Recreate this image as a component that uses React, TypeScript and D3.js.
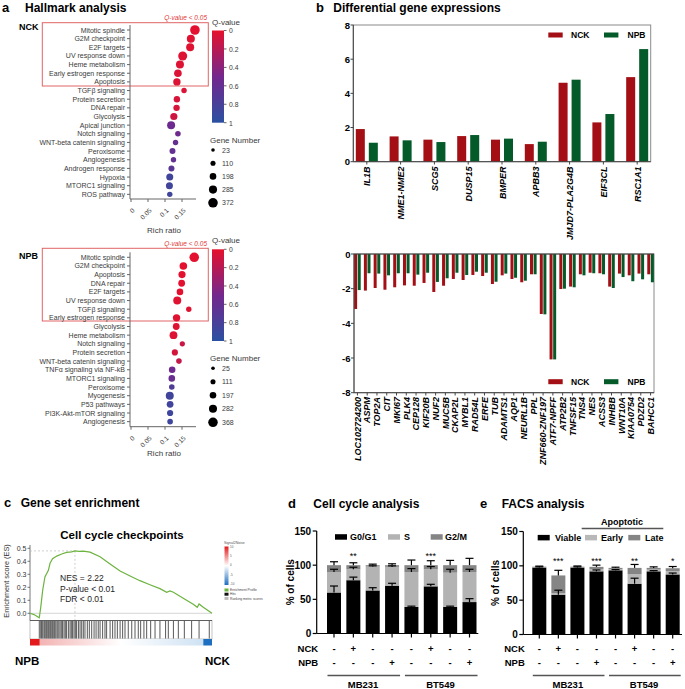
import React, { useEffect, useRef } from 'react';
import * as d3 from 'd3';

const FONT = 'Liberation Sans, Arial, Helvetica, sans-serif';

// ---- a: Hallmark analysis ----
const nckTerms = ['Mitotic spindle', 'G2M checkpoint', 'E2F targets', 'UV response down', 'Heme metabolism', 'Early estrogen response', 'Apoptosis', 'TGFβ signaling', 'Protein secretion', 'DNA repair', 'Glycolysis', 'Apical junction', 'Notch signaling', 'WNT-beta catenin signaling', 'Peroxisome', 'Angiogenesis', 'Androgen response', 'Hypoxia', 'MTORC1 signaling', 'ROS pathway'];
const nckRatio = [0.188, 0.176, 0.174, 0.152, 0.144, 0.138, 0.135, 0.156, 0.135, 0.134, 0.126, 0.118, 0.138, 0.131, 0.122, 0.125, 0.119, 0.114, 0.113, 0.114];
const nckQ = [0.01, 0.02, 0.02, 0.03, 0.03, 0.04, 0.04, 0.05, 0.06, 0.06, 0.1, 0.55, 0.55, 0.6, 0.62, 0.62, 0.68, 0.85, 0.85, 0.85];
const nckGenes = [372, 279, 279, 337, 279, 256, 244, 128, 186, 186, 232, 279, 139, 128, 163, 128, 163, 221, 221, 128];
const nckSizeTicks = [23, 110, 198, 285, 372];

const npbTerms = ['Mitotic spindle', 'G2M checkpoint', 'Apoptosis', 'DNA repair', 'E2F targets', 'UV response down', 'TGFβ signaling', 'Early estrogen response', 'Glycolysis', 'Heme metabolism', 'Notch signaling', 'Protein secretion', 'WNT-beta catenin signaling', 'TNFα signaling via NF-kB', 'MTORC1 signaling', 'Peroxisome', 'Myogenesis', 'P53 pathways', 'PI3K-Akt-mTOR signaling', 'Angiogenesis'];
const npbRatio = [0.186, 0.154, 0.150, 0.149, 0.144, 0.136, 0.170, 0.134, 0.133, 0.125, 0.151, 0.129, 0.141, 0.121, 0.120, 0.120, 0.114, 0.115, 0.115, 0.115];
const npbQ = [0.01, 0.01, 0.01, 0.01, 0.01, 0.02, 0.02, 0.02, 0.02, 0.03, 0.12, 0.08, 0.15, 0.55, 0.58, 0.75, 0.85, 0.85, 0.87, 0.87];
const npbGenes = [368, 256, 232, 209, 198, 279, 128, 244, 209, 267, 116, 174, 139, 198, 198, 139, 279, 209, 174, 139];
const npbSizeTicks = [25, 111, 197, 282, 368];

const qTicks = [0, 0.2, 0.4, 0.6, 0.8, 1];
const ratioTicks = [0, 0.05, 0.1, 0.15];

// ---- b: Differential gene expressions ----
const upGenes = ['IL1B', 'NME1-NME2', 'SCG5', 'DUSP15', 'BMPER', 'APBB3', 'JMJD7-PLA2G4B', 'EIF3CL', 'RSC1A1'];
const upNck = [1.91, 1.48, 1.29, 1.5, 1.29, 1.03, 4.62, 2.3, 4.95];
const upNpb = [1.11, 1.25, 1.15, 1.56, 1.35, 1.17, 4.8, 2.79, 6.59];
const upTicks = [0, 2, 4, 6, 8];

const downGenes = ['LOC102724200', 'ASPM', 'TOP2A', 'CIT', 'MKI67', 'PLK4', 'CEP128', 'KIF20B', 'NUF2', 'MUC5B', 'CKAP2L', 'MYBL1', 'RAD54L', 'ERFE', 'TUB', 'ADAMTS1', 'AQP1', 'NEURL1B', 'PPL', 'ZNF660-ZNF197', 'ATF7-NPFF', 'ATP2B2', 'TNFSF15', 'TNS4', 'NES', 'ACSS3', 'INHBB', 'WNT10A', 'KIAA0754', 'PDZD2', 'BAHCC1'];
const downNck = [-3.17, -2.11, -1.96, -2.06, -1.92, -1.81, -1.83, -1.67, -2.19, -1.83, -1.44, -1.5, -1.21, -1.27, -1.73, -1.23, -1.44, -1.63, -1.17, -3.46, -6.08, -2.02, -1.88, -1.17, -1.08, -1.11, -1.88, -1.13, -1.23, -1.13, -1.17];
const downNpb = [-2.08, -1.11, -1.13, -1.23, -1.11, -1.11, -1.19, -1.08, -1.61, -1.4, -1.08, -1.21, -1.02, -1.08, -1.6, -1.13, -1.37, -1.54, -1.17, -3.48, -6.08, -2.0, -1.92, -1.23, -1.11, -1.17, -1.96, -1.33, -1.57, -1.46, -1.63];
const downTicks = [0, -2, -4, -6, -8];

// ---- c: GSEA ----
const esRank = [0, 2.2, 5.1, 5.9, 7.0, 8.2, 10.1, 11.0, 12.4, 14.7, 17.4, 20.1, 22.9, 24.7, 27.0, 29.3, 33.0, 38.5, 44.0, 49.5, 55.0, 60.4, 65.9, 71.4, 75.1, 76.9, 78.8, 84.2, 89.7, 91.9, 92.9, 95.2, 100];
const esScore = [0, -0.01, -0.034, 0.046, 0.18, 0.28, 0.33, 0.385, 0.42, 0.44, 0.456, 0.468, 0.473, 0.48, 0.476, 0.478, 0.47, 0.435, 0.379, 0.325, 0.287, 0.251, 0.22, 0.19, 0.162, 0.172, 0.162, 0.115, 0.069, 0.046, 0.072, 0.046, 0];
const hitRanks = [5.1, 5.9, 6.4, 7.0, 7.7, 8.2, 8.8, 9.3, 9.9, 10.4, 11.0, 11.5, 12.1, 12.6, 13.2, 13.7, 14.3, 15.0, 15.8, 16.5, 17.2, 17.9, 18.7, 19.4, 20.1, 21.1, 22.0, 22.7, 23.4, 24.2, 24.9, 25.6, 26.6, 27.5, 28.4, 29.3, 30.2, 31.5, 32.6, 33.9, 35.2, 36.3, 37.5, 38.5, 39.9, 41.2, 42.1, 44.0, 45.4, 46.7, 48.0, 49.5, 50.9, 52.2, 54.0, 55.9, 57.7, 59.5, 60.8, 62.6, 64.1, 66.3, 68.7, 71.4, 74.5, 76.0, 78.8, 81.5, 84.8, 88.8, 92.9, 98.5];
const esTicks = [0, 0.1, 0.2, 0.3, 0.4, 0.5];
const gseaStats = ['NES = 2.22', 'P-value < 0.01', 'FDR < 0.01'];

// ---- d / e: shared treatment layout ----
const nckSigns = ['-', '+', '-', '-', '-', '+', '-', '-'];
const npbSigns = ['-', '-', '-', '+', '-', '-', '-', '+'];
const cellLines = ['MB231', 'BT549'];
const pctTicks = [0, 50, 100, 150];

// d: cell cycle
const ccG1 = [60, 78, 63, 70, 39, 69, 39, 46];
const ccS = [30, 16, 35, 27.5, 51, 25, 50, 44];
const ccG2M = [10, 6, 2, 2.5, 10, 6, 11, 10];
const ccG1Err = [9.5, 4.5, 4, 3.5, 1, 3, 1, 5];
const ccSErr = [4, 3, 1, 1.5, 5, 4, 5, 4];
const ccG2MErr = [5, 3.5, 1.5, 2, 7.5, 6.5, 7, 10];
const ccStars = ['', '**', '', '', '', '***', '', ''];

// e: FACS
const facsViable = [97.5, 58, 97.5, 92, 93.5, 74, 92, 87.5];
const facsEarly = [0.5, 2, 0.5, 3, 1.5, 14, 2.5, 5];
const facsLate = [0.8, 26, 0.8, 3.5, 2, 9, 2.5, 4];
const facsViableErr = [1, 6.5, 1, 2, 1, 8, 1, 2];
const facsEarlyErr = [0, 0, 0, 0, 0, 0, 0, 0];
const facsLateErr = [0.8, 7.5, 1, 2.5, 1, 5, 1.5, 2.5];
const facsStars = ['', '***', '', '***', '', '**', '', '*'];

const RED = '#a30f14';
const GREEN = '#045a28';

const App = () => {
  const ref = useRef(null);

  useEffect(() => {
    document.body.style.margin = '0';
    const svg = d3.select(ref.current);
    svg.selectAll('*').remove();
    svg.attr('width', 685).attr('height', 689).style('font-family', FONT);

    const defs = svg.append('defs');
    const qColor = d3.scaleLinear<string>().domain([0, 0.5, 1]).range(['#e5112d', '#74278d', '#2b50a1']);
    const qGrad = defs.append('linearGradient').attr('id', 'qgrad')
      .attr('x1', 0).attr('x2', 0).attr('y1', 0).attr('y2', 1);
    d3.range(0, 1.01, 0.1).forEach(t => qGrad.append('stop').attr('offset', t).attr('stop-color', qColor(t)));

    const panelTitle = (x, letter, x2, text, y) => {
      svg.append('text').attr('x', x).attr('y', y).attr('font-size', 13).attr('font-weight', 'bold').text(letter);
      svg.append('text').attr('x', x2).attr('y', y).attr('font-size', 12).attr('font-weight', 'bold').text(text);
    };
    panelTitle(2, 'a', 25, 'Hallmark analysis', 11.5);
    panelTitle(316, 'b', 333.3, 'Differential gene expressions', 11.5);
    panelTitle(4, 'c', 20.7, 'Gene set enrichment', 507);
    panelTitle(288, 'd', 313.3, 'Cell cycle analysis', 507.5);
    panelTitle(480, 'e', 501.7, 'FACS analysis', 507.5);

    // ---------- a ----------
    const drawHallmark = (L) => {
      const g = svg.append('g');
      const y = d3.scalePoint().domain(L.terms).range([L.rowY0, L.rowY0 + (L.terms.length - 1) * 8.65]);
      const x = d3.scaleLinear().domain([0, 0.19]).range([131, 195.6]);
      const r = d3.scaleLinear().domain([23, 372]).range([1.8, 4.8]);

      g.append('text').attr('x', 19).attr('y', L.nameY).attr('font-size', 9).attr('font-weight', 'bold').text(L.name);
      g.append('text').attr('x', 207).attr('y', L.qLabelY).attr('text-anchor', 'end')
        .attr('font-size', 6.5).attr('font-style', 'italic').attr('fill', '#e03a3a').text('Q-value < 0.05');
      g.append('rect').attr('x', 42.3).attr('y', L.boxTop).attr('width', 166).attr('height', L.boxBottom - L.boxTop)
        .attr('fill', 'none').attr('stroke', '#e06464').attr('stroke-width', 1);

      g.append('line').attr('x1', 130).attr('x2', 130).attr('y1', L.rowY0 - 5).attr('y2', L.axisY).attr('stroke', '#666');
      L.terms.forEach(t => {
        g.append('line').attr('x1', 127).attr('x2', 130).attr('y1', y(t)).attr('y2', y(t)).attr('stroke', '#666');
        g.append('text').attr('x', 125).attr('y', y(t) + 2.5).attr('text-anchor', 'end')
          .attr('font-size', 7).attr('fill', '#3a3a3a').text(t);
      });
      g.append('line').attr('x1', 130).attr('x2', 196).attr('y1', L.axisY).attr('y2', L.axisY).attr('stroke', '#666');
      ratioTicks.forEach(t => {
        g.append('line').attr('x1', x(t)).attr('x2', x(t)).attr('y1', L.axisY).attr('y2', L.axisY + 3).attr('stroke', '#666');
        g.append('text').attr('transform', `translate(${x(t) + 4},${L.axisY + 12}) rotate(-45)`)
          .attr('text-anchor', 'end').attr('font-size', 6.5).attr('fill', '#3a3a3a').text(String(t));
      });
      g.append('text').attr('x', 164).attr('y', L.richY).attr('text-anchor', 'middle').attr('font-size', 8)
        .attr('fill', '#3a3a3a').text('Rich ratio');

      L.terms.forEach((t, i) => {
        g.append('circle').attr('cx', x(L.ratio[i])).attr('cy', y(t)).attr('r', r(L.genes[i])).attr('fill', qColor(L.q[i]));
      });

      // Q-value colour bar
      const qy = d3.scaleLinear().domain([0, 1]).range([L.cbTop, L.cbBot]);
      g.append('text').attr('x', 212).attr('y', L.qTitleY).attr('font-size', 8).attr('fill', '#3a3a3a').text('Q-value');
      g.append('rect').attr('x', 212).attr('y', L.cbTop).attr('width', 12).attr('height', L.cbBot - L.cbTop).attr('fill', 'url(#qgrad)');
      qTicks.forEach(t => {
        g.append('line').attr('x1', 224).attr('x2', 226.5).attr('y1', qy(t)).attr('y2', qy(t)).attr('stroke', '#666');
        g.append('text').attr('x', 229).attr('y', qy(t) + 2.8).attr('font-size', 6.8).attr('fill', '#3a3a3a').text(String(t));
      });

      // gene number legend
      g.append('text').attr('x', 210).attr('y', L.glTitleY).attr('font-size', 8).attr('fill', '#3a3a3a').text('Gene Number');
      L.sizeTicks.forEach((v, i) => {
        const cy = L.glY0 + i * L.glStep;
        g.append('circle').attr('cx', 213).attr('cy', cy).attr('r', r(v)).attr('fill', '#000');
        g.append('text').attr('x', 222).attr('y', cy + 2.5).attr('font-size', 7).attr('fill', '#3a3a3a').text(String(v));
      });
    };

    drawHallmark({
      name: 'NCK', terms: nckTerms, ratio: nckRatio, q: nckQ, genes: nckGenes, sizeTicks: nckSizeTicks,
      rowY0: 30, nameY: 29.5, qLabelY: 20, boxTop: 22.7, boxBottom: 86, axisY: 199, richY: 233,
      cbTop: 30.5, cbBot: 122.7, qTitleY: 25, glTitleY: 142.5, glY0: 150, glStep: 13.2,
    });
    drawHallmark({
      name: 'NPB', terms: npbTerms, ratio: npbRatio, q: npbQ, genes: npbGenes, sizeTicks: npbSizeTicks,
      rowY0: 257.3, nameY: 258.8, qLabelY: 246, boxTop: 248.3, boxBottom: 321, axisY: 426.7, richY: 456.3,
      cbTop: 249.3, cbBot: 341, qTitleY: 243, glTitleY: 360.7, glY0: 368.3, glStep: 13.5,
    });

    // ---------- b ----------
    const legendB = (y) => {
      svg.append('rect').attr('x', 548.3).attr('y', y - 2.5).attr('width', 14.4).attr('height', 5).attr('fill', RED);
      svg.append('text').attr('x', 571).attr('y', y + 3.2).attr('font-size', 8.5).attr('font-weight', 'bold').text('NCK');
      svg.append('rect').attr('x', 604).attr('y', y - 2.5).attr('width', 14.4).attr('height', 5).attr('fill', GREEN);
      svg.append('text').attr('x', 627.5).attr('y', y + 3.2).attr('font-size', 8.5).attr('font-weight', 'bold').text('NPB');
    };

    const upX = d3.scalePoint().domain(upGenes).range([353.3, 650.7]).padding(0.4);
    const upY = d3.scaleLinear().domain([0, 8]).range([161.7, 25]);
    svg.append('rect').attr('x', 353.3).attr('y', 25).attr('width', 297.4).attr('height', 136.7)
      .attr('fill', 'none').attr('stroke', '#8a8a8a');
    upGenes.forEach((gname, i) => {
      const c = upX(gname);
      svg.append('rect').attr('x', c - 11).attr('width', 9).attr('y', upY(upNck[i])).attr('height', upY(0) - upY(upNck[i])).attr('fill', RED);
      svg.append('rect').attr('x', c + 2).attr('width', 9).attr('y', upY(upNpb[i])).attr('height', upY(0) - upY(upNpb[i])).attr('fill', GREEN);
      svg.append('line').attr('x1', c).attr('x2', c).attr('y1', 161.7).attr('y2', 164.5).attr('stroke', '#444');
      svg.append('text').attr('transform', `translate(${c + 3.5},166.5) rotate(-90)`).attr('text-anchor', 'end')
        .attr('font-size', 9).attr('font-weight', 'bold').attr('font-style', 'italic').text(gname);
    });
    svg.append('line').attr('x1', 353.3).attr('x2', 353.3).attr('y1', 25).attr('y2', 161.7).attr('stroke', '#444');
    svg.append('line').attr('x1', 353.3).attr('x2', 650.7).attr('y1', 161.7).attr('y2', 161.7).attr('stroke', '#444');
    upTicks.forEach(t => {
      svg.append('line').attr('x1', 350.5).attr('x2', 353.3).attr('y1', upY(t)).attr('y2', upY(t)).attr('stroke', '#444');
      svg.append('text').attr('x', 350).attr('y', upY(t) + 3.5).attr('text-anchor', 'end')
        .attr('font-size', 9.5).attr('font-weight', 'bold').text(String(t));
    });
    legendB(35);

    const dnX = d3.scalePoint().domain(downGenes).range([354, 654]).padding(0.35);
    const dnY = d3.scaleLinear().domain([-8, 0]).range([392.7, 254]);
    svg.append('rect').attr('x', 354).attr('y', 254).attr('width', 300).attr('height', 138.7)
      .attr('fill', 'none').attr('stroke', '#8a8a8a');
    downGenes.forEach((gname, i) => {
      const c = dnX(gname);
      svg.append('rect').attr('x', c - 3.3).attr('width', 3).attr('y', dnY(0)).attr('height', dnY(downNck[i]) - dnY(0)).attr('fill', RED);
      svg.append('rect').attr('x', c + 0.3).attr('width', 3).attr('y', dnY(0)).attr('height', dnY(downNpb[i]) - dnY(0)).attr('fill', GREEN);
      svg.append('line').attr('x1', c).attr('x2', c).attr('y1', 392.7).attr('y2', 395.5).attr('stroke', '#444');
      svg.append('text').attr('transform', `translate(${c + 3.3},397) rotate(-90)`).attr('text-anchor', 'end')
        .attr('font-size', 9).attr('font-weight', 'bold').attr('font-style', 'italic').text(gname);
    });
    svg.append('line').attr('x1', 354).attr('x2', 354).attr('y1', 254).attr('y2', 392.7).attr('stroke', '#444');
    svg.append('line').attr('x1', 354).attr('x2', 654).attr('y1', 392.7).attr('y2', 392.7).attr('stroke', '#444');
    svg.append('line').attr('x1', 354).attr('x2', 654).attr('y1', 254).attr('y2', 254).attr('stroke', '#444');
    downTicks.forEach(t => {
      svg.append('line').attr('x1', 351).attr('x2', 354).attr('y1', dnY(t)).attr('y2', dnY(t)).attr('stroke', '#444');
      svg.append('text').attr('x', 350.5).attr('y', dnY(t) + 3.5).attr('text-anchor', 'end')
        .attr('font-size', 9.5).attr('font-weight', 'bold').text(String(t));
    });
    legendB(381.7);

    // ---------- c ----------
    const esX = d3.scaleLinear().domain([0, 100]).range([30, 212]);
    const esY = d3.scaleLinear().domain([0, 0.5]).range([613.3, 548.3]);
    svg.append('text').attr('x', 122).attr('y', 538.5).attr('text-anchor', 'middle')
      .attr('font-size', 11.5).attr('font-weight', 'bold').text('Cell cycle checkpoints');
    svg.append('line').attr('x1', 30).attr('x2', 30).attr('y1', 545).attr('y2', 620.5).attr('stroke', '#555').attr('stroke-width', 0.8);
    svg.append('line').attr('x1', 30).attr('x2', 212).attr('y1', esY(0)).attr('y2', esY(0)).attr('stroke', '#ccc').attr('stroke-width', 0.8);
    esTicks.forEach(t => {
      svg.append('line').attr('x1', 27.5).attr('x2', 30).attr('y1', esY(t)).attr('y2', esY(t)).attr('stroke', '#555').attr('stroke-width', 0.8);
      svg.append('text').attr('x', 26.5).attr('y', esY(t) + 2.5).attr('text-anchor', 'end')
        .attr('font-size', 7).attr('fill', '#333').text(t.toFixed(1));
    });
    svg.append('text').attr('transform', 'translate(8.5,581) rotate(-90)').attr('text-anchor', 'middle')
      .attr('font-size', 7.3).attr('fill', '#333').text('Enrichment score (ES)');

    const peakIdx = d3.maxIndex(esScore);
    const px = esX(esRank[peakIdx]);
    const py = esY(esScore[peakIdx]);
    svg.append('line').attr('x1', 30).attr('x2', px).attr('y1', py).attr('y2', py)
      .attr('stroke', '#bbb').attr('stroke-dasharray', '2,2').attr('stroke-width', 0.7);
    svg.append('line').attr('x1', px).attr('x2', px).attr('y1', py).attr('y2', 639)
      .attr('stroke', '#bbb').attr('stroke-dasharray', '2,2').attr('stroke-width', 0.7);

    const esLine = d3.line<number>().x((d, i) => esX(esRank[i])).y(d => esY(d));
    svg.append('path').attr('d', esLine(esScore)).attr('fill', 'none').attr('stroke', '#6cb33f').attr('stroke-width', 1.2);

    gseaStats.forEach((s, i) => {
      svg.append('text').attr('x', 60).attr('y', 581.3 + i * 10.4).attr('font-size', 8.5).attr('fill', '#222').text(s);
    });

    // hits strip
    svg.append('rect').attr('x', 30).attr('y', 620.5).attr('width', 182).attr('height', 18.5)
      .attr('fill', '#fff').attr('stroke', '#999').attr('stroke-width', 0.6);
    svg.append('line').attr('x1', 30).attr('x2', 212).attr('y1', 620.5).attr('y2', 620.5).attr('stroke', '#444').attr('stroke-width', 0.8);
    hitRanks.forEach(h => {
      svg.append('line').attr('x1', esX(h)).attr('x2', esX(h)).attr('y1', 621).attr('y2', 638.5)
        .attr('stroke', '#111').attr('stroke-width', 0.7);
    });
    const rankGrad = defs.append('linearGradient').attr('id', 'rankgrad');
    [[0, '#e31a1c'], [0.05, '#e31a1c'], [0.055, '#f3b3b3'], [0.5, '#ffffff'], [0.95, '#cfe2f3'], [0.955, '#1f6fc0'], [1, '#1f6fc0']]
      .forEach(([o, c]) => rankGrad.append('stop').attr('offset', o).attr('stop-color', c));
    svg.append('rect').attr('x', 30).attr('y', 639).attr('width', 182).attr('height', 6.5).attr('fill', 'url(#rankgrad)');

    // tiny GSEA legend
    const snGrad = defs.append('linearGradient').attr('id', 'sngrad').attr('x1', 0).attr('x2', 0).attr('y1', 0).attr('y2', 1);
    [[0, '#e31a1c'], [0.5, '#ffffff'], [1, '#1f6fc0']].forEach(([o, c]) => snGrad.append('stop').attr('offset', o).attr('stop-color', c));
    svg.append('text').attr('x', 224).attr('y', 544).attr('font-size', 3.5).attr('fill', '#555').text('Signal2Noise');
    svg.append('rect').attr('x', 224.5).attr('y', 546.5).attr('width', 4).attr('height', 38.5).attr('fill', 'url(#sngrad)');
    [10, 5, 0, -5, -10].forEach((t, i) => {
      svg.append('text').attr('x', 230).attr('y', 547.5 + i * 9.4).attr('font-size', 3).attr('fill', '#555').text(String(t));
    });
    [['#6cb33f', 'Enrichment Profile'], ['#111', 'Hits'], ['#bbb', 'Ranking metric scores']].forEach(([c, t], i) => {
      svg.append('rect').attr('x', 224.5).attr('y', 588.5 + i * 4.2).attr('width', 4).attr('height', 3).attr('fill', c);
      svg.append('text').attr('x', 230).attr('y', 591.2 + i * 4.2).attr('font-size', 3.3).attr('fill', '#444').text(t);
    });

    svg.append('text').attr('x', 15).attr('y', 664.5).attr('font-size', 11.5).attr('font-weight', 'bold').text('NPB');
    svg.append('text').attr('x', 205).attr('y', 664.5).attr('font-size', 11.5).attr('font-weight', 'bold').text('NCK');

    // ---------- d / e ----------
    const drawStack = (P) => {
      const idx = d3.range(nckSigns.length);
      const x = d3.scalePoint().domain(idx).range([P.c0, P.c1]);
      const y = d3.scaleLinear().domain([0, 150]).range([P.y0, P.y150]);
      const bw = 14;
      const table = idx.map(i => ({ a: P.layers[0][i], b: P.layers[1][i], c: P.layers[2][i] }));
      const series = d3.stack().keys(['a', 'b', 'c'])(table);

      series.forEach((s, li) => {
        s.forEach((d, i) => {
          svg.append('rect').attr('x', x(i) - bw / 2).attr('width', bw)
            .attr('y', y(d[1])).attr('height', Math.max(0, y(d[0]) - y(d[1]))).attr('fill', P.colors[li]);
        });
      });
      series.forEach((s, li) => {
        s.forEach((d, i) => {
          const e = P.errs[li][i];
          if (!e) return;
          const top = y(d[1] + e);
          svg.append('line').attr('x1', x(i)).attr('x2', x(i)).attr('y1', y(d[1])).attr('y2', top).attr('stroke', '#000').attr('stroke-width', 1.2);
          svg.append('line').attr('x1', x(i) - 4).attr('x2', x(i) + 4).attr('y1', top).attr('y2', top).attr('stroke', '#000').attr('stroke-width', 1.2);
        });
      });
      P.stars.forEach((s, i) => {
        if (s) svg.append('text').attr('x', x(i)).attr('y', P.starY).attr('text-anchor', 'middle').attr('font-size', 9).text(s);
      });

      // axes
      svg.append('line').attr('x1', P.axisX).attr('x2', P.axisX).attr('y1', y(150)).attr('y2', y(0)).attr('stroke', '#000').attr('stroke-width', 1.2);
      svg.append('line').attr('x1', P.axisX).attr('x2', P.axisEnd).attr('y1', y(0)).attr('y2', y(0)).attr('stroke', '#000').attr('stroke-width', 1.2);
      pctTicks.forEach(t => {
        svg.append('line').attr('x1', P.axisX - 4).attr('x2', P.axisX).attr('y1', y(t)).attr('y2', y(t)).attr('stroke', '#000').attr('stroke-width', 1.2);
        svg.append('text').attr('x', P.axisX - 5.5).attr('y', y(t) + 3.5).attr('text-anchor', 'end')
          .attr('font-size', 10).attr('font-weight', 'bold').text(String(t));
      });
      idx.forEach(i => {
        svg.append('line').attr('x1', x(i)).attr('x2', x(i)).attr('y1', y(0)).attr('y2', y(0) + 4).attr('stroke', '#000').attr('stroke-width', 1.2);
        svg.append('text').attr('x', x(i)).attr('y', 652).attr('text-anchor', 'middle').attr('font-size', 9.5).attr('font-weight', 'bold').text(nckSigns[i]);
        svg.append('text').attr('x', x(i)).attr('y', 666).attr('text-anchor', 'middle').attr('font-size', 9.5).attr('font-weight', 'bold').text(npbSigns[i]);
      });
      svg.append('text').attr('transform', `translate(${P.yTitleX},${(y(0) + y(150)) / 2}) rotate(-90)`)
        .attr('text-anchor', 'middle').attr('font-size', 10).attr('font-weight', 'bold').text('% of cells');
      svg.append('text').attr('x', P.axisX + 1.5).attr('y', 652).attr('text-anchor', 'end').attr('font-size', 9.5).attr('font-weight', 'bold').text('NCK');
      svg.append('text').attr('x', P.axisX + 1.5).attr('y', 666).attr('text-anchor', 'end').attr('font-size', 9.5).attr('font-weight', 'bold').text('NPB');

      cellLines.forEach((cl, k) => {
        const a = x(k * 4) - 6.5;
        const b = x(k * 4 + 3) + 8;
        svg.append('line').attr('x1', a).attr('x2', b).attr('y1', 675.5).attr('y2', 675.5).attr('stroke', '#555').attr('stroke-width', 1.3);
        svg.append('text').attr('x', (x(k * 4 + 1) + x(k * 4 + 2)) / 2).attr('y', 688).attr('text-anchor', 'middle')
          .attr('font-size', 9.5).attr('font-weight', 'bold').text(cl);
      });

      P.legend.forEach(([label, lx, tx], li) => {
        svg.append('rect').attr('x', lx).attr('y', P.legendY - 2.8).attr('width', 12).attr('height', 5.5).attr('fill', P.colors[li]);
        svg.append('text').attr('x', tx).attr('y', P.legendY + 3.3).attr('font-size', 9).attr('font-weight', 'bold').text(label);
      });
    };

    drawStack({
      layers: [ccG1, ccS, ccG2M], errs: [ccG1Err, ccSErr, ccG2MErr], stars: ccStars,
      colors: ['#000', '#b3b3b3', '#858585'],
      c0: 334, c1: 469.5, y0: 633.5, y150: 531, axisX: 316.7, axisEnd: 478.3, yTitleX: 294, starY: 559,
      legendY: 537, legend: [['G0/G1', 335, 350], ['S', 388, 404], ['G2/M', 430.7, 445]],
    });
    drawStack({
      layers: [facsViable, facsEarly, facsLate], errs: [facsViableErr, facsEarlyErr, facsLateErr], stars: facsStars,
      colors: ['#000', '#b8b8b8', '#858585'],
      c0: 539.3, c1: 672.7, y0: 634.5, y150: 531.5, axisX: 523.3, axisEnd: 682, yTitleX: 498.5, starY: 564,
      legendY: 537.7, legend: [['Viable', 537.7, 555], ['Early', 585, 601], ['Late', 628.3, 645]],
    });
    svg.append('text').attr('x', 622).attr('y', 525).attr('text-anchor', 'middle').attr('font-size', 9).attr('font-weight', 'bold').text('Apoptotic');
    svg.append('line').attr('x1', 581.7).attr('x2', 663.3).attr('y1', 528.5).attr('y2', 528.5).attr('stroke', '#555').attr('stroke-width', 1.3);
  }, []);

  return <svg ref={ref} />;
};

export default App;
